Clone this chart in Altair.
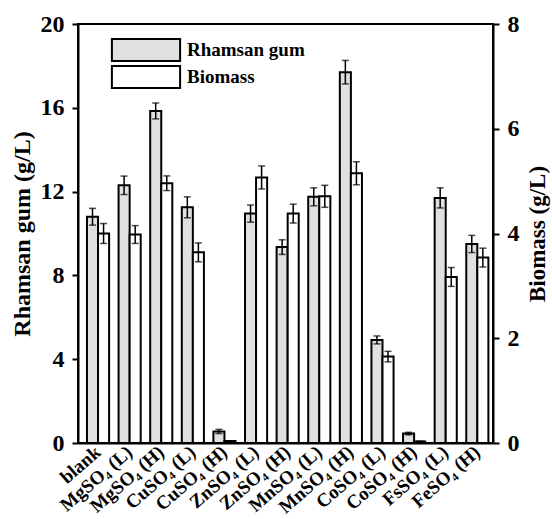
import altair as alt
import pandas as pd

categories = ["blank", "MgSO₄ (L)", "MgSO₄ (H)", "CuSO₄ (L)", "CuSO₄ (H)", "ZnSO₄ (L)",
              "ZnSO₄ (H)", "MnSO₄ (L)", "MnSO₄ (H)", "CoSO₄ (L)", "CoSO₄ (H)", "FsSO₄ (L)", "FeSO₄ (H)"]
series_names = ["Rhamsan gum", "Biomass"]

gum = [10.8, 12.3, 15.85, 11.25, 0.55, 10.95, 9.35, 11.75, 17.7, 4.92, 0.45, 11.7, 9.5]
gum_err = [0.4, 0.44, 0.38, 0.5, 0.1, 0.41, 0.35, 0.43, 0.56, 0.19, 0.06, 0.48, 0.41]
biomass = [4.0, 3.98, 4.96, 3.64, 0.04, 5.07, 4.38, 4.71, 5.15, 1.65, 0.03, 3.17, 3.54]
biomass_err = [0.19, 0.17, 0.14, 0.18, 0.0, 0.22, 0.18, 0.21, 0.22, 0.1, 0.0, 0.18, 0.18]

left_ticks = [0, 4, 8, 12, 16, 20]
right_ticks = [0, 2, 4, 6, 8]

FONT = "Liberation Serif"


def frame(series, vals, errs):
    d = pd.DataFrame({"cat": categories, "series": series, "value": vals, "err": errs})
    d["lo"] = d["value"] - d["err"]
    d["hi"] = d["value"] + d["err"]
    return d


df_gum = frame(series_names[0], gum, gum_err)
df_bio = frame(series_names[1], biomass, biomass_err)

x_enc = alt.X("cat:N", sort=categories,
              scale=alt.Scale(domain=categories, paddingInner=0.3, paddingOuter=0.215, align=0.66),
              axis=alt.Axis(title=None, labelAngle=-41, labelAlign="right", labelBaseline="middle",
                            labelFontSize=19, ticks=False, labelPadding=6))
xo_enc = alt.XOffset("series:N", scale=alt.Scale(domain=series_names, paddingInner=0, paddingOuter=0))
color_enc = alt.Color("series:N",
                      scale=alt.Scale(domain=series_names, range=["#e0e0e0", "#ffffff"]),
                      legend=alt.Legend(title=None, orient="none", legendX=56, legendY=14,
                                        symbolType="M-3.1,-1H3.1V1H-3.1Z", symbolSize=484,
                                        symbolStrokeColor="black", symbolStrokeWidth=2,
                                        labelOffset=29, rowPadding=-6,
                                        labelFont=FONT, labelFontWeight="bold", labelFontSize=19,
                                        labelColor="black"))


def group(df, y_scale, axis):
    base = alt.Chart(df)
    bars = base.mark_bar(stroke="black", strokeWidth=2).encode(
        x=x_enc, xOffset=xo_enc,
        y=alt.Y("value:Q", scale=y_scale, axis=axis),
        color=color_enc)
    rule = base.mark_rule(color="black", strokeWidth=1.5).encode(
        x=x_enc, xOffset=xo_enc, y="lo:Q", y2="hi:Q")
    t_lo = base.mark_tick(color="black", orient="horizontal", size=7, thickness=1.5).encode(
        x=x_enc, xOffset=xo_enc, y="lo:Q")
    t_hi = base.mark_tick(color="black", orient="horizontal", size=7, thickness=1.5).encode(
        x=x_enc, xOffset=xo_enc, y="hi:Q")
    return alt.layer(bars, rule, t_lo, t_hi)


left = group(df_gum, alt.Scale(domain=[0, 20], nice=False),
             alt.Axis(values=left_ticks, title="Rhamsan gum (g/L)", titleFontSize=24,
                      labelFontSize=24, labelPadding=8, titlePadding=6))
right = group(df_bio, alt.Scale(domain=[0, 8], nice=False),
              alt.Axis(orient="right", values=right_ticks, title="Biomass (g/L)", titleFontSize=23,
                       titleAngle=270, titleBaseline="top", labelFontSize=24, labelPadding=8,
                       titlePadding=7))

chart = alt.layer(left, right).resolve_scale(y="independent").properties(
    width=415, height=419,
    padding={"left": 78, "top": 24, "right": 59, "bottom": 76},
    autosize=alt.AutoSizeParams(type="none"),
).configure_view(stroke="black", strokeWidth=2).configure_axis(
    domainColor="black", domainWidth=2, tickColor="black", tickWidth=2, tickSize=6,
    labelFont=FONT, labelFontWeight="bold", labelColor="black",
    titleFont=FONT, titleFontWeight="bold", titleColor="black", grid=False)

chart.save("out.html", embed_options={"renderer": "svg", "actions": False})
